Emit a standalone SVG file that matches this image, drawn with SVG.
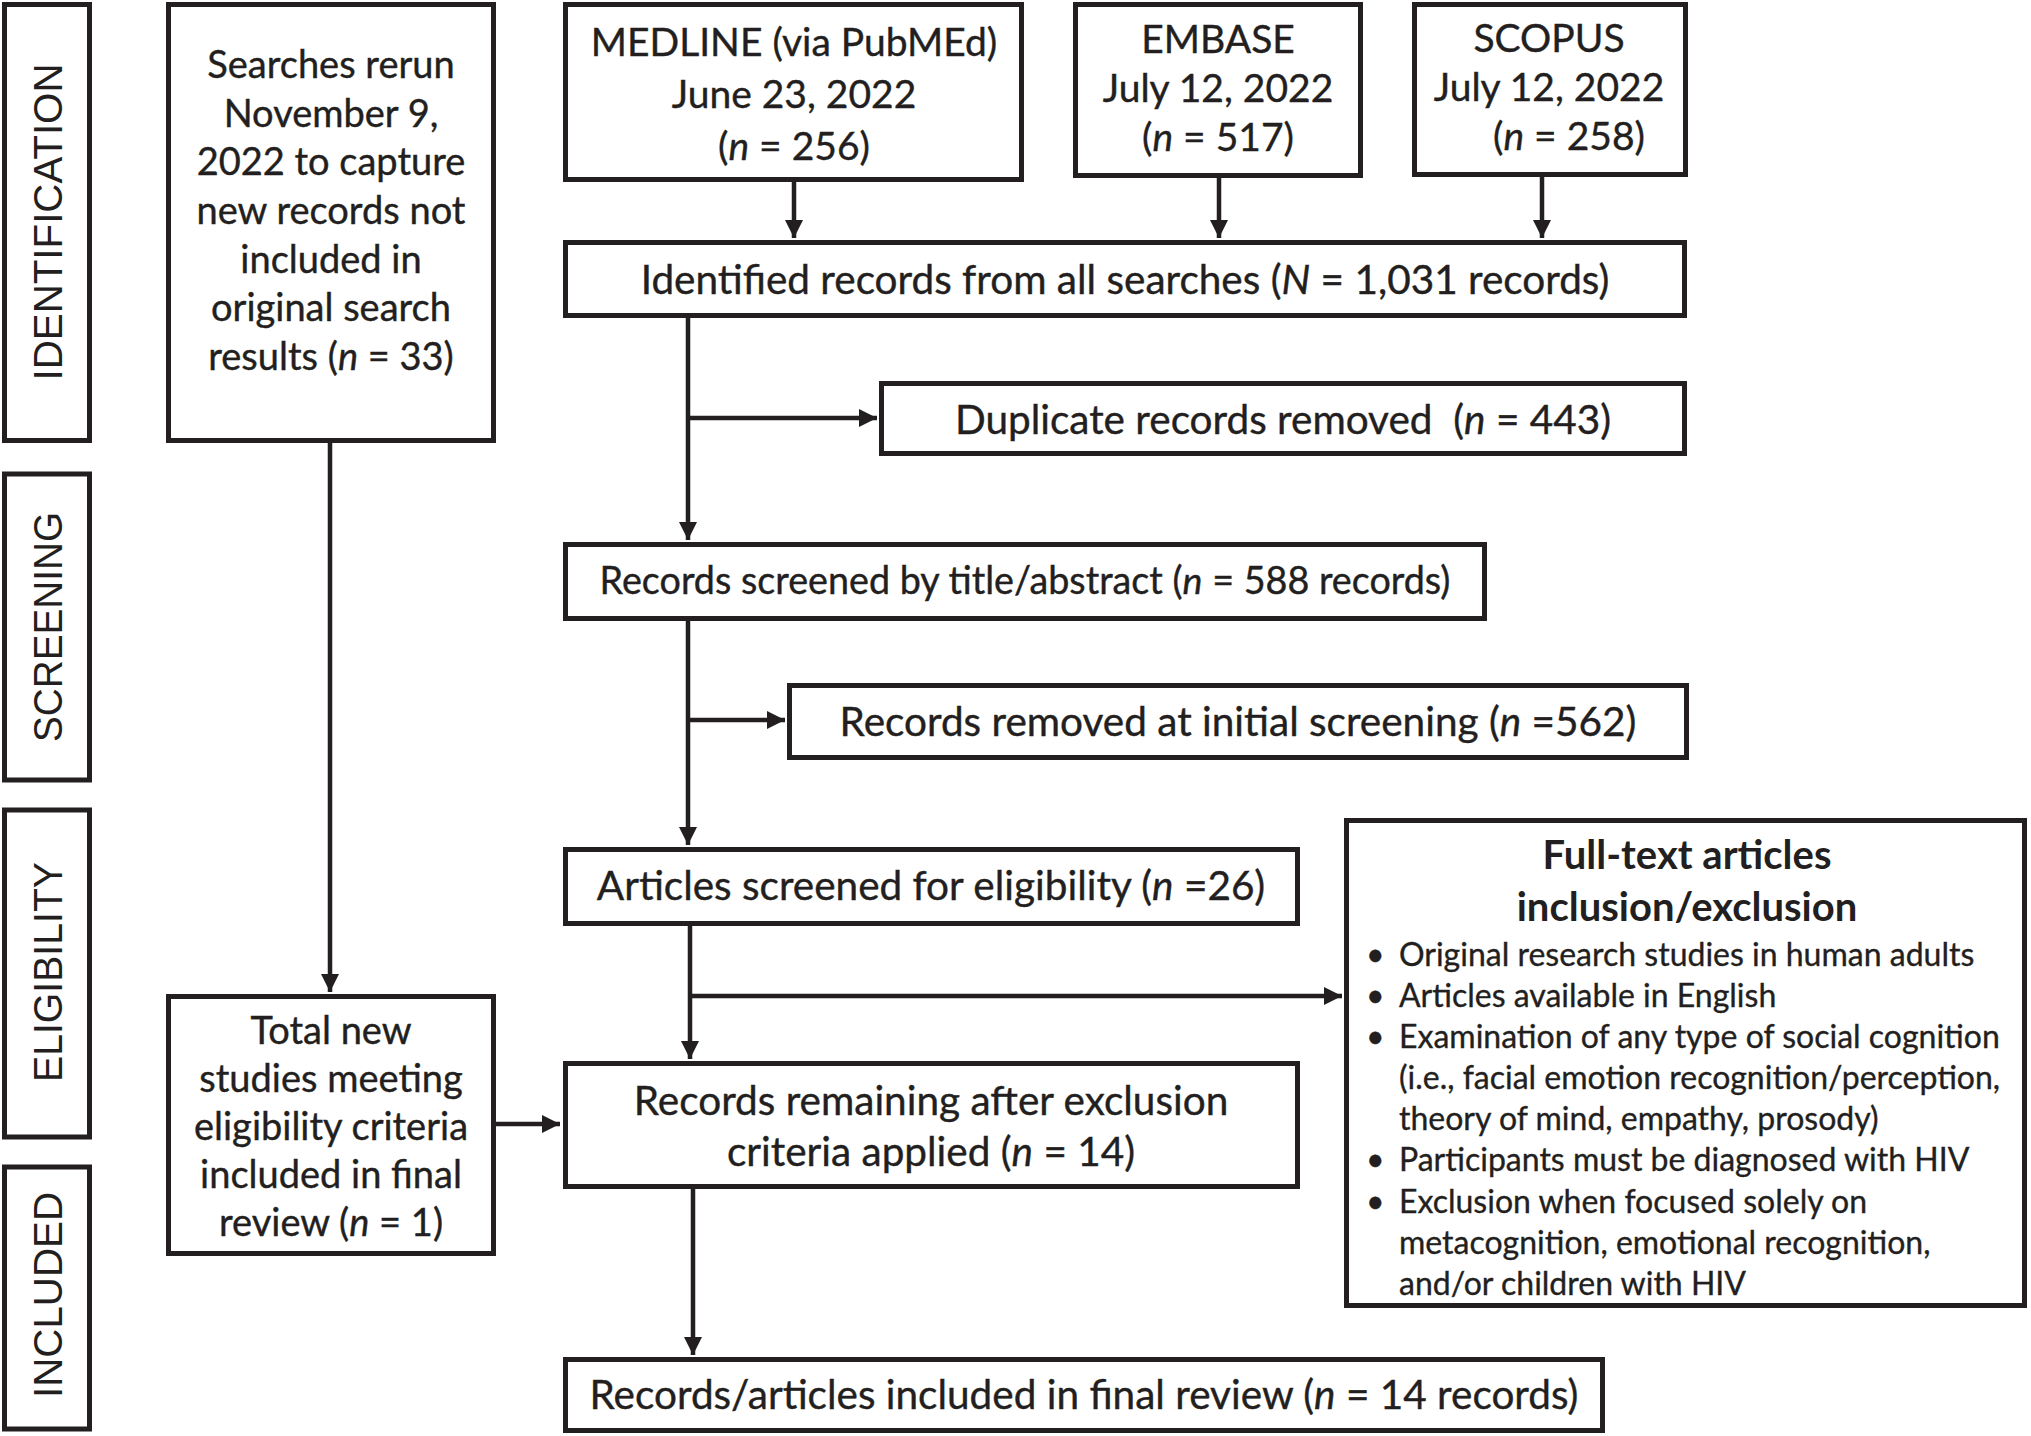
<svg xmlns="http://www.w3.org/2000/svg" width="2031" height="1436" viewBox="0 0 2031 1436">
<style>
rect.box{fill:#fff;stroke:#231f20;stroke-width:5}
.t{font-family:Lato,"Liberation Sans",sans-serif;font-size:38px;fill:#231f20;stroke:#231f20;stroke-width:0.4;text-anchor:middle;white-space:pre}
.w{font-size:40.5px}
.m{font-size:39px}
.s{font-size:37.7px}
.b{font-family:Lato,"Liberation Sans",sans-serif;font-size:32px;fill:#231f20;stroke:#231f20;stroke-width:0.35;white-space:pre}
.h{font-family:Lato,"Liberation Sans",sans-serif;font-size:40px;font-weight:bold;fill:#231f20;text-anchor:middle}
.side{font-family:"Liberation Sans",sans-serif;font-size:40px;fill:#231f20;text-anchor:middle}
.i{font-style:italic}
.c{fill:none;stroke:#231f20;stroke-width:4.5}
</style>
<defs>
<marker id="ah" viewBox="0 0 10 10" refX="10" refY="5" markerUnits="userSpaceOnUse" markerWidth="18" markerHeight="18" orient="auto">
<path d="M0,0 L10,5 L0,10 z" fill="#231f20"/>
</marker>
</defs>
<g id="side-identification"><rect class="box" x="4.5" y="4.5" width="85" height="436"/><text class="side" transform="translate(62,222) rotate(-90)" textLength="317" lengthAdjust="spacingAndGlyphs">IDENTIFICATION</text></g>
<g id="side-screening"><rect class="box" x="4.5" y="474" width="85" height="306"/><text class="side" transform="translate(62,627) rotate(-90)" textLength="230" lengthAdjust="spacingAndGlyphs">SCREENING</text></g>
<g id="side-eligibility"><rect class="box" x="4.5" y="810" width="85" height="327"/><text class="side" transform="translate(62,972) rotate(-90)" textLength="220" lengthAdjust="spacingAndGlyphs">ELIGIBILITY</text></g>
<g id="side-included"><rect class="box" x="4.5" y="1167" width="85" height="262"/><text class="side" transform="translate(62,1295) rotate(-90)" textLength="206" lengthAdjust="spacingAndGlyphs">INCLUDED</text></g>

<g id="connectors">
<path class="c" d="M794,182 V238" marker-end="url(#ah)"/>
<path class="c" d="M1219,178 V238" marker-end="url(#ah)"/>
<path class="c" d="M1542,177 V238" marker-end="url(#ah)"/>
<path class="c" d="M688,318 V540" marker-end="url(#ah)"/>
<path class="c" d="M688,418 H877" marker-end="url(#ah)"/>
<path class="c" d="M688,621 V845" marker-end="url(#ah)"/>
<path class="c" d="M688,720 H785" marker-end="url(#ah)"/>
<path class="c" d="M690,926 V1059" marker-end="url(#ah)"/>
<path class="c" d="M690,996 H1342" marker-end="url(#ah)"/>
<path class="c" d="M693,1189 V1355" marker-end="url(#ah)"/>
<path class="c" d="M330,442 V992" marker-end="url(#ah)"/>
<path class="c" d="M496,1124 H560" marker-end="url(#ah)"/>
</g>

<g id="rerun"><rect class="box" x="168.5" y="4.5" width="325" height="436"/>
<text class="t" x="331" y="78">Searches rerun</text>
<text class="t" x="331" y="127">November 9,</text>
<text class="t" x="331" y="175">2022 to capture</text>
<text class="t" x="331" y="224">new records not</text>
<text class="t" x="331" y="273">included in</text>
<text class="t" x="331" y="321">original search</text>
<text class="t" x="331" y="370">results (<tspan class="i">n</tspan> = 33)</text>
</g>
<g id="medline"><rect class="box" x="565.5" y="4.5" width="456" height="175"/>
<text class="t m" x="794" y="56">MEDLINE (via PubMEd)</text>
<text class="t m" x="794" y="108">June 23, 2022</text>
<text class="t m" x="794" y="160">(<tspan class="i">n</tspan> = 256)</text>
</g>
<g id="embase"><rect class="box" x="1075.5" y="4.5" width="285" height="171"/>
<text class="t m" x="1218" y="53">EMBASE</text>
<text class="t m" x="1218" y="102">July 12, 2022</text>
<text class="t m" x="1218" y="151">(<tspan class="i">n</tspan> = 517)</text>
</g>
<g id="scopus"><rect class="box" x="1414.5" y="4.5" width="271" height="170"/>
<text class="t m" x="1549" y="52">SCOPUS</text>
<text class="t m" x="1549" y="101">July 12, 2022</text>
<text class="t m" x="1569" y="150">(<tspan class="i">n</tspan> = 258)</text>
</g>
<g id="identified"><rect class="box" x="565.5" y="242.5" width="1119" height="73"/>
<text class="t w" x="1125" y="294">Identified records from all searches (<tspan class="i">N</tspan> = 1,031 records)</text>
</g>
<g id="duplicates"><rect class="box" x="881.5" y="383.5" width="803" height="70"/>
<text class="t w" x="1283" y="434">Duplicate records removed  (<tspan class="i">n</tspan> = 443)</text>
</g>
<g id="screened"><rect class="box" x="565.5" y="544.5" width="919" height="74"/>
<text class="t s" x="1025" y="594">Records screened by title/abstract (<tspan class="i">n</tspan> = 588 records)</text>
</g>
<g id="removed"><rect class="box" x="789.5" y="685.5" width="897" height="72"/>
<text class="t w" x="1238" y="736">Records removed at initial screening (<tspan class="i">n</tspan> =562)</text>
</g>
<g id="articles"><rect class="box" x="565.5" y="849.5" width="732" height="74"/>
<text class="t w" x="931" y="900">Articles screened for eligibility (<tspan class="i">n</tspan> =26)</text>
</g>
<g id="remaining"><rect class="box" x="565.5" y="1063.5" width="732" height="123"/>
<text class="t w" x="931" y="1115">Records remaining after exclusion</text>
<text class="t w" x="931" y="1166">criteria applied (<tspan class="i">n</tspan> = 14)</text>
</g>
<g id="final"><rect class="box" x="565.5" y="1359.5" width="1037" height="71"/>
<text class="t w" x="1084" y="1409">Records/articles included in final review (<tspan class="i">n</tspan> = 14 records)</text>
</g>
<g id="newstudies"><rect class="box" x="168.5" y="996.5" width="325" height="257"/>
<text class="t" x="331" y="1044">Total new</text>
<text class="t" x="331" y="1092">studies meeting</text>
<text class="t" x="331" y="1140">eligibility criteria</text>
<text class="t" x="331" y="1188">included in final</text>
<text class="t" x="331" y="1236">review (<tspan class="i">n</tspan> = 1)</text>
</g>
<g id="fulltext"><rect class="box" x="1346.5" y="820.5" width="678" height="485"/>
<text class="h" x="1687" y="869">Full-text articles</text>
<text class="h" x="1687" y="921">inclusion/exclusion</text>
<text class="b" x="1366" y="966">•</text><text class="b" x="1399" y="966">Original research studies in human adults</text>
<text class="b" x="1366" y="1007">•</text><text class="b" x="1399" y="1007">Articles available in English</text>
<text class="b" x="1366" y="1048">•</text><text class="b" x="1399" y="1048">Examination of any type of social cognition</text>
<text class="b" x="1399" y="1089">(i.e., facial emotion recognition/perception,</text>
<text class="b" x="1399" y="1130">theory of mind, empathy, prosody)</text>
<text class="b" x="1366" y="1171">•</text><text class="b" x="1399" y="1171">Participants must be diagnosed with HIV</text>
<text class="b" x="1366" y="1213">•</text><text class="b" x="1399" y="1213">Exclusion when focused solely on</text>
<text class="b" x="1399" y="1254">metacognition, emotional recognition,</text>
<text class="b" x="1399" y="1295">and/or children with HIV</text>
</g>
</svg>
